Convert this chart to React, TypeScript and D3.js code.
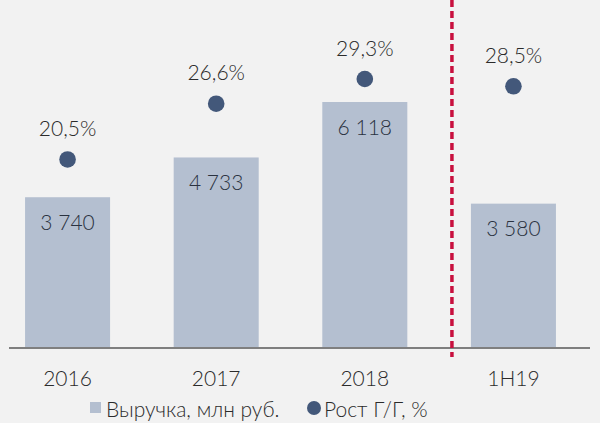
import React from "react";
import * as d3 from "d3";

const categories = ["2016", "2017", "2018", "1H19"];
const revenue = [3740, 4733, 6118, 3580];
const growth = [20.5, 26.6, 29.3, 28.5];
const revenueLabels = ["3 740", "4 733", "6 118", "3 580"];
const growthLabels = ["20,5%", "26,6%", "29,3%", "28,5%"];
const legendLabels = ["Выручка, млн руб.", "Рост Г/Г, %"];

const W = 600;
const H = 423;
const FONT = "Lato, 'Open Sans', sans-serif";

export default function App() {
  const baseY = 347;
  const x = d3
    .scaleBand<string>()
    .domain(categories)
    .range([9, 572])
    .paddingInner(0.428)
    .paddingOuter(0.108);
  const yBar = d3.scaleLinear().domain([0, 6118]).range([baseY, 102]);
  const yDot = d3.scaleLinear().domain([0, 29.3]).range([baseY, 79]);
  const bw = x.bandwidth();
  const sepX = (x("1H19") as number) - 19;

  return (
    <svg
      width={W}
      height={H}
      style={{ position: "absolute", left: 0, top: 0, background: "#f2f2f2" }}
      fontFamily={FONT}
      fontWeight={300}
    >
      <rect x={0} y={0} width={W} height={H} fill="#f2f2f2" />
      {categories.map((c, i) => {
        const x0 = x(c) as number;
        const cx = x0 + bw / 2;
        const top = yBar(revenue[i]);
        const dy = yDot(growth[i]);
        return (
          <g key={c}>
            <rect x={x0} y={top} width={bw} height={baseY - top} fill="#b4bfd0" />
            <text
              x={cx}
              y={top + 24}
              textAnchor="middle"
              dominantBaseline="central"
              fontSize={21}
              fill="#2a3240"
            >
              {revenueLabels[i]}
            </text>
            <circle cx={cx} cy={dy} r={8.3} fill="#43587a" />
            <text
              x={cx}
              y={dy - 32}
              textAnchor="middle"
              dominantBaseline="central"
              fontSize={21}
              fill="#2b2b2b"
            >
              {growthLabels[i]}
            </text>
            <text
              x={cx}
              y={377}
              textAnchor="middle"
              dominantBaseline="central"
              fontSize={21}
              fill="#2b2b2b"
            >
              {c}
            </text>
          </g>
        );
      })}
      <line x1={9} x2={590} y1={baseY + 1} y2={baseY + 1} stroke="#7f7f7f" strokeWidth={2} />
      <line
        x1={sepX}
        x2={sepX}
        y1={0}
        y2={357}
        stroke="#c8103e"
        strokeWidth={3.5}
        strokeDasharray="7 4"
      />
      <g>
        <rect x={90} y={402} width={11} height={11} fill="#b4bfd0" />
        <text x={106} y={408} dominantBaseline="central" fontSize={21} fill="#2b2b2b">
          {legendLabels[0]}
        </text>
        <circle cx={314} cy={408} r={7} fill="#43587a" />
        <text x={324} y={408} dominantBaseline="central" fontSize={21} fill="#2b2b2b">
          {legendLabels[1]}
        </text>
      </g>
    </svg>
  );
}
